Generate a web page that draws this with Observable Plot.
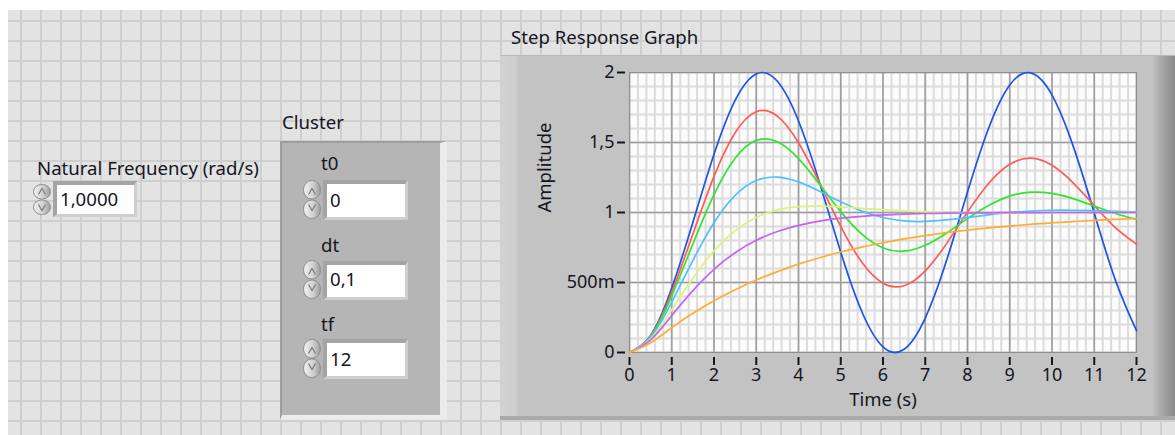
<!DOCTYPE html>
<html>
<head>
<meta charset="utf-8">
<script src="https://cdn.jsdelivr.net/npm/d3@7"></script>
<script src="https://cdn.jsdelivr.net/npm/@observablehq/plot@0.6"></script>
<style>
  html, body { margin: 0; padding: 0; }
  body { width: 1175px; height: 435px; position: relative; overflow: hidden; background: #ffffff;
         font-family: "Noto Sans", sans-serif; color: #15151f; }
  * { box-sizing: border-box; }
  #panel { position: absolute; left: 8px; top: 10px; width: 1167px; height: 425px;
           background-color: #e3e3e3;
           background-image: linear-gradient(to right, #cfcfcf 2px, transparent 2px),
                             linear-gradient(to bottom, #cfcfcf 2px, transparent 2px);
           background-size: 20px 20px; background-position: 12px 10px; }
  .lbl { position: absolute; font-size: 18.6px; line-height: 1; white-space: nowrap; }
  .box { position: absolute; background: #ffffff;
         border-top: 4px solid #a4a4a4; border-left: 4px solid #a4a4a4;
         border-right: 3px solid #cfcfcf; border-bottom: 3px solid #cfcfcf; }
  .inc { position: absolute; }
  #cluster { position: absolute; left: 280px; top: 141px; width: 167px; height: 279px;
             background: #b5b5b5; border-top: 2px solid #9e9e9e; border-left: 2px solid #9e9e9e;
             border-right: 7px solid #ececec; border-bottom: 5px solid #ececec; }
  #gframe { position: absolute; left: 500px; top: 55px; width: 675px; height: 365px;
            background: linear-gradient(to right, #d3d3d3 0px, #cdcdcd 17px, #c3c3c3 18px, #c3c3c3 652px, #acacac 660px, #8a8a8a 675px);
            border-top: 1px solid #b8b8b8; box-shadow: inset 0 -4px 0 #a9a9a9; }
  #chart { position: absolute; left: 500px; top: 55px; }
</style>
</head>
<body>
<div id="panel"></div>

<div class="lbl" style="left:37px;top:159px;">Natural Frequency (rad/s)</div>
<div class="box" style="left:53px;top:181px;width:84px;height:36px;"></div>
<div class="lbl" style="left:60px;top:190px;">1,0000</div>

<div class="lbl" style="left:282px;top:113px;">Cluster</div>
<div id="cluster"></div>
<div class="lbl" style="left:321px;top:154px;">t0</div>
<div class="box" style="left:323px;top:180px;width:85px;height:40px;"></div>
<div class="lbl" style="left:330px;top:191px;">0</div>
<div class="lbl" style="left:321px;top:236px;">dt</div>
<div class="box" style="left:323px;top:261px;width:85px;height:39px;"></div>
<div class="lbl" style="left:330px;top:270px;">0,1</div>
<div class="lbl" style="left:321px;top:315px;">tf</div>
<div class="box" style="left:323px;top:339px;width:85px;height:40px;"></div>
<div class="lbl" style="left:330px;top:350px;">12</div>

<div class="lbl" style="left:511px;top:28px;">Step Response Graph</div>
<div id="gframe"></div>
<div id="chart"></div>

<script>
// ---- data (step responses, natural frequency 1 rad/s) ----
const time = [0, 0.5, 1, 1.5, 2, 2.5, 3, 3.5, 4, 4.5, 5, 5.5, 6, 6.5, 7, 7.5, 8, 8.5, 9, 9.5, 10, 10.5, 11, 11.5, 12];

const blueSeries   = [0, 0.122, 0.460, 0.929, 1.416, 1.801, 1.990, 1.937, 1.654, 1.211, 0.716, 0.291, 0.040, 0.023, 0.246, 0.653, 1.146, 1.602, 1.911, 1.997, 1.839, 1.476, 0.996, 0.517, 0.156];
const redSeries    = [0, 0.119, 0.431, 0.846, 1.258, 1.570, 1.720, 1.688, 1.498, 1.211, 0.901, 0.644, 0.495, 0.477, 0.583, 0.776, 1.003, 1.207, 1.344, 1.388, 1.337, 1.212, 1.050, 0.892, 0.774];
const greenSeries  = [0, 0.115, 0.405, 0.775, 1.128, 1.388, 1.515, 1.505, 1.385, 1.201, 1.006, 0.845, 0.747, 0.724, 0.766, 0.852, 0.956, 1.050, 1.117, 1.145, 1.136, 1.099, 1.046, 0.993, 0.951];
const cyanSeries   = [0, 0.108, 0.360, 0.658, 0.927, 1.122, 1.228, 1.253, 1.219, 1.152, 1.076, 1.010, 0.964, 0.940, 0.936, 0.947, 0.964, 0.983, 1.000, 1.010, 1.016, 1.016, 1.013, 1.008, 1.004];
const yellowSeries = [0, 0.098, 0.306, 0.531, 0.726, 0.871, 0.965, 1.019, 1.042, 1.046, 1.040, 1.030, 1.020, 1.011, 1.005, 1.001, 0.999, 0.998, 0.998, 0.998, 0.999, 0.999, 1.000, 1.000, 1.000];
const violetSeries = [0, 0.090, 0.264, 0.442, 0.594, 0.713, 0.801, 0.864, 0.908, 0.939, 0.960, 0.973, 0.983, 0.989, 0.993, 0.995, 0.997, 0.998, 0.999, 0.999, 1.000, 1.000, 1.000, 1.000, 1.000];
const orangeSeries = [0, 0.070, 0.178, 0.280, 0.370, 0.449, 0.518, 0.578, 0.631, 0.677, 0.718, 0.753, 0.784, 0.811, 0.835, 0.856, 0.874, 0.890, 0.903, 0.916, 0.926, 0.935, 0.944, 0.951, 0.957];

const seriesNames  = ["Plot 0", "Plot 1", "Plot 2", "Plot 3", "Plot 4", "Plot 5", "Plot 6"];
const seriesColors = ["#1f52e6", "#ff5a5a", "#2ee62e", "#4cc2ff", "#d6f57a", "#c463f5", "#ffac30"];

const xTicks = [0, 1, 2, 3, 4, 5, 6, 7, 8, 9, 10, 11, 12];
const yTicks = [0, 0.5, 1, 1.5, 2];
const yTickLabels = ["0", "500m", "1", "1,5", "2"];

// ---- build table for the library ----
const seriesValues = [blueSeries, redSeries, greenSeries, cyanSeries, yellowSeries, violetSeries, orangeSeries];
const rows = seriesNames.flatMap((s, k) => time.map((t, i) => ({t, y: seriesValues[k][i], s})));
const xMinor = d3.range(0, 61).map(i => i / 5);
const yMinor = d3.range(0, 21).map(i => i / 10);

const chart = Plot.plot({
  width: 675,
  height: 365,
  marginLeft: 129,
  marginRight: 39,
  marginTop: 17,
  marginBottom: 68,
  x: {domain: [0, 12]},
  y: {domain: [0, 2]},
  color: {domain: seriesNames, range: seriesColors},
  style: {background: "transparent", fontFamily: "Noto Sans, sans-serif", fontSize: "18px", color: "#15151f", overflow: "visible"},
  marks: [
    Plot.frame({fill: "#fcfcfc"}),
    Plot.gridX(xMinor, {stroke: "#dcdcdc", strokeOpacity: 1, strokeWidth: 2}),
    Plot.gridY(yMinor, {stroke: "#dcdcdc", strokeOpacity: 1, strokeWidth: 2}),
    Plot.gridX(xTicks, {stroke: "#9e9e9e", strokeOpacity: 1, strokeWidth: 1.6}),
    Plot.gridY(yTicks, {stroke: "#9e9e9e", strokeOpacity: 1, strokeWidth: 1.6}),
    Plot.frame({stroke: "#8f8f8f"}),
    Plot.axisX(xTicks, {tickSize: 8, tickPadding: 3, dy: 5, strokeWidth: 2, label: null, tickFormat: d => String(d)}),
    Plot.axisY(yTicks, {tickSize: 8, tickPadding: 3, dx: -4, strokeWidth: 2, label: null, tickFormat: d => yTickLabels[yTicks.indexOf(d)]}),
    Plot.line(rows, {x: "t", y: "y", z: "s", stroke: "s", strokeWidth: 1.7, curve: "natural"}),
    Plot.text(["Time (s)"], {text: d => d, frameAnchor: "bottom", dy: 53, fontSize: 18.5}),
    Plot.text(["Amplitude"], {text: d => d, frameAnchor: "left", dx: -84, rotate: -90, fontSize: 18.5})
  ]
});
document.getElementById("chart").appendChild(chart);

// ---- incrementer arrows (decoration of the numeric controls) ----
function incrementer(left, top, h, id) {
  const w = 20;
  const ns = "http://www.w3.org/2000/svg";
  const svg = document.createElementNS(ns, "svg");
  svg.setAttribute("width", w); svg.setAttribute("height", h);
  svg.setAttribute("class", "inc");
  svg.style.left = left + "px"; svg.style.top = top + "px";
  const m = h / 2;
  svg.innerHTML =
    `<defs><linearGradient id="g${id}" x1="0" x2="1" y1="0" y2="0">
       <stop offset="0" stop-color="#f2f2f2"/><stop offset="0.55" stop-color="#d2d2d2"/><stop offset="1" stop-color="#9c9c9c"/>
     </linearGradient></defs>
     <rect x="1.5" y="1.5" width="${w - 3}" height="${m - 2}" rx="8" ry="${(m - 2) / 2}" fill="url(#g${id})" stroke="#8e8e8e"/>
     <rect x="1.5" y="${m + 0.5}" width="${w - 3}" height="${m - 2}" rx="8" ry="${(m - 2) / 2}" fill="url(#g${id})" stroke="#8e8e8e"/>
     <path d="M6.5 ${m - 5} L10 ${m - 11} L13.5 ${m - 5}" fill="none" stroke="#7a7a7a" stroke-width="1.2"/>
     <path d="M6.5 ${m + 5} L10 ${m + 11} L13.5 ${m + 5}" fill="none" stroke="#7a7a7a" stroke-width="1.2"/>`;
  document.body.appendChild(svg);
}
incrementer(32, 183, 33, 0);
incrementer(302, 179, 41, 1);
incrementer(302, 259, 41, 2);
incrementer(302, 338, 41, 3);
</script>
</body>
</html>
